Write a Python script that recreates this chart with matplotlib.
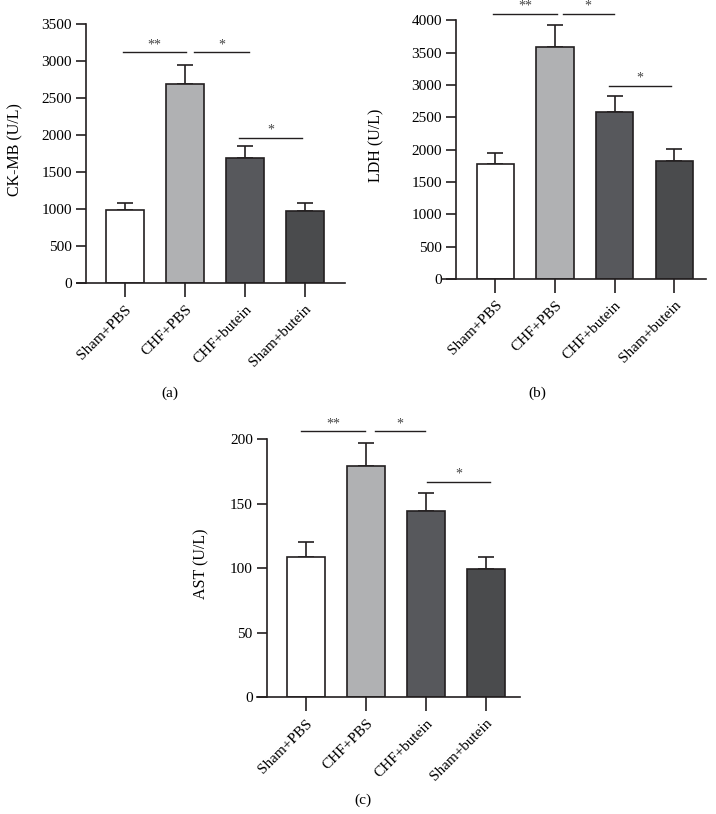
import numpy as np
import matplotlib.pyplot as plt

plt.rcParams['font.family'] = ['Liberation Serif', 'DejaVu Serif']

groups = ['Sham+PBS', 'CHF+PBS', 'CHF+butein', 'Sham+butein']
colors = ['#ffffff', '#b0b1b3', '#57585c', '#4a4b4d']

ckmb = [985, 2690, 1685, 980]
ckmb_err = [95, 260, 170, 100]
ldh = [1780, 3580, 2580, 1830]
ldh_err = [175, 350, 250, 180]
ast = [109, 179, 144.5, 99]
ast_err = [11, 18, 14, 10]

# significance lines: (from, to, y value, label)
ckmb_sig = [(-0.03, 1.02, 3120, '**'), (1.15, 2.07, 3120, '*'), (1.9, 2.95, 1965, '*')]
ldh_sig = [(-0.04, 1.03, 4100, '**'), (1.13, 1.98, 4100, '*'), (1.9, 2.95, 2990, '*')]
ast_sig = [(-0.08, 0.98, 206, '**'), (1.15, 1.98, 206, '*'), (2.02, 3.07, 167, '*')]

W, H = 716, 814
fig = plt.figure(figsize=(W / 100, H / 100), dpi=100)


def panel(vals, errs, sig, ylabel, ymax, ystep, xl, yax, c0, sp, xr, y0, ytop,
          ylab_x, letter, letter_xy):
    ax = fig.add_axes([xl / W, 1 - y0 / H, (xr - xl) / W, (y0 - ytop) / H])
    x = np.arange(len(vals))
    ax.bar(x, vals, width=0.62, color=colors, edgecolor='#231f20', linewidth=1.2,
           zorder=2)
    ax.errorbar(x, vals, yerr=[np.zeros(len(errs)), errs], fmt='none',
                ecolor='#231f20', elinewidth=1.2, capsize=6, capthick=1.2, zorder=1)
    ax.set_xlim((xl - c0) / sp, (xr - c0) / sp)
    ax.set_ylim(0, ymax)
    ax.spines['left'].set_position(('data', (yax - c0) / sp))
    for s in ['top', 'right']:
        ax.spines[s].set_visible(False)
    for s in ['left', 'bottom']:
        ax.spines[s].set_linewidth(1.2)
        ax.spines[s].set_color('#231f20')
    ax.set_yticks(np.arange(0, ymax + 1, ystep))
    ax.set_xticks(x)
    ax.set_xticklabels(groups, rotation=45, ha='right', va='top',
                       rotation_mode='anchor')
    ax.tick_params(axis='x', length=10, width=1.2, labelsize=11, pad=4,
                   color='#231f20')
    ax.tick_params(axis='y', length=7, width=1.2, labelsize=11, pad=3,
                   color='#231f20')
    ax.set_ylabel(ylabel, fontsize=11.5)
    ax.yaxis.set_label_coords(ylab_x / W, 1 - ((y0 + ytop) / 2 - 4) / H,
                              transform=fig.transFigure)
    ax.patch.set_visible(False)
    for a, b, yv, lab in sig:
        ax.plot([a, b], [yv, yv], color='#231f20', lw=1.0, clip_on=False)
        ax.text((a + b) / 2, yv + ymax * 0.004, lab, ha='center', va='bottom',
                fontsize=10, color='#444444', clip_on=False)
    fig.text(letter_xy[0] / W, 1 - letter_xy[1] / H, letter, ha='center',
             va='center', fontsize=11)
    return ax


panel(ckmb, ckmb_err, ckmb_sig, 'CK-MB (U/L)', 3500, 500,
      77, 86, 125, 60, 345, 283.3, 24, 23, '(a)', (170, 393))
panel(ldh, ldh_err, ldh_sig, 'LDH (U/L)', 4000, 500,
      442, 456, 495.3, 59.7, 706, 279, 20.3, 384, '(b)', (537, 393))
panel(ast, ast_err, ast_sig, 'AST (U/L)', 200, 50,
      257, 266.7, 306, 60, 520, 697.3, 439, 209, '(c)', (363, 800))

fig.savefig('out.png', dpi=100)
